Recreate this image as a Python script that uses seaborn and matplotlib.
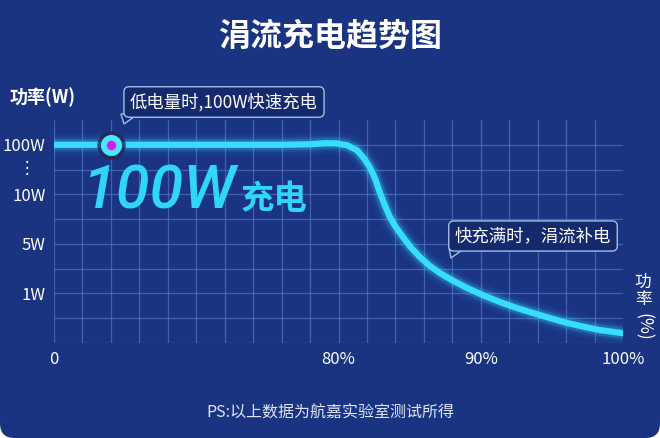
import numpy as np
import pandas as pd
import matplotlib
matplotlib.use('Agg')
import matplotlib.pyplot as plt
import seaborn as sns
from matplotlib.patches import FancyBboxPatch, Polygon

# curve, in grid units (x: 0..20 squares, y: 0..9 squares)
curve_x = [0, 2, 4, 6, 8, 9.0, 9.5, 9.9, 10.3, 10.65, 10.9, 11.1, 11.3, 11.46, 11.65,
           11.81, 12.0, 12.27, 12.55, 12.86, 13.2, 13.57, 14.0, 14.52, 15.1, 15.68,
           16.25, 16.84, 17.45, 18.03, 18.6, 19.19, 19.97]
curve_y = [8.0, 8.0, 8.0, 8.0, 8.0, 8.02, 8.06, 8.06, 7.98, 7.78, 7.45, 7.10, 6.6, 6.05, 5.5,
           5.08, 4.7, 4.27, 3.85, 3.47, 3.12, 2.82, 2.53, 2.22, 1.92, 1.65,
           1.42, 1.21, 1.0, 0.81, 0.66, 0.52, 0.40]
marker_x = [2]
marker_y = [8]

xtick_pos = [0, 10, 15, 20]
xtick_labels = ['0', '80%', '90%', '100%']
ytick_pos = [2, 4, 6, 8]
ytick_labels = ['1W', '5W', '10W', '100W']

df = pd.DataFrame({'pos': curve_x, 'power': curve_y})

bg = '#1a3482'
cyan = '#38dcff'

sns.set_style('white')
plt.rcParams['font.family'] = ['Noto Sans CJK SC', 'DejaVu Sans']

fig = plt.figure(figsize=(6.6, 4.38), dpi=100, facecolor='white')
# navy card with rounded bottom corners
fig.patches.append(FancyBboxPatch((0, 0), 1, 1.1, boxstyle='round,pad=0,rounding_size=0.022',
                                  transform=fig.transFigure, facecolor=bg, edgecolor='none',
                                  mutation_aspect=660 / 438, zorder=-5))

ax = fig.add_axes([54 / 660, 1 - 343 / 438, (623 - 54) / 660, (343 - 120) / 438])
ax.set_zorder(2)
ax.set_facecolor('none')
ax.set_xlim(0, 20)
ax.set_ylim(0, 9)

for gx in range(0, 20):
    ax.axvline(gx, color='#5a80cf', lw=0.9, alpha=0.6, zorder=1)
for gy in range(0, 9):
    ax.axhline(gy, color='#5a80cf', lw=0.9, alpha=0.6, zorder=1)

# glow + line
for lw, a in [(16, 0.05), (11, 0.1), (8, 0.22)]:
    sns.lineplot(data=df, x='pos', y='power', ax=ax, color=cyan, lw=lw, alpha=a,
                 solid_capstyle='round', zorder=3, sort=False)
sns.lineplot(data=df, x='pos', y='power', ax=ax, color=cyan, lw=4.5,
             solid_capstyle='round', zorder=4, sort=False)

ax.scatter(marker_x, marker_y, s=420, color='#1b2b55', alpha=0.8, zorder=5, linewidths=0)
ax.scatter(marker_x, marker_y, s=230, color='#4fe3ff', zorder=6, linewidths=0)
ax.scatter(marker_x, marker_y, s=45, color='#d21ee6', zorder=7, linewidths=0)

ax.set_xticks(xtick_pos)
ax.set_xticklabels(xtick_labels)
ax.set_yticks(ytick_pos)
ax.set_yticklabels(ytick_labels)
ax.tick_params(axis='both', length=0, colors='white', labelsize=12)
ax.tick_params(axis='x', pad=6)
ax.tick_params(axis='y', pad=6)
ax.set_xlabel('')
ax.set_ylabel('')
for s in ax.spines.values():
    s.set_visible(False)

ax.text(-0.95, 7.05, '⋮', color='white', fontsize=12, ha='center', va='center',
        family=['DejaVu Sans'])

# big label
ax.text(1.0, 6.1, '100W', color='#2fd6f7', fontsize=44, style='italic', weight='medium',
        family=['Roboto', 'DejaVu Sans'], va='center', ha='left', zorder=4)
ax.text(6.55, 5.8, '充电', color='#2fd6f7', fontsize=24, weight='bold', va='center', ha='left', zorder=4)


def fx(x):
    return x / 660


def fy(y):
    return 1 - y / 438


fig.text(fx(330), fy(37), '涓流充电趋势图', color='white', fontsize=23, weight='bold',
         ha='center', va='center')
fig.text(fx(10), fy(97), '功率(W)', color='white', fontsize=13, weight='bold', ha='left', va='center')
fig.text(fx(643), fy(291), '功\n率', color='white', fontsize=12, ha='center', va='center',
         linespacing=1.0)
fig.text(fx(643), fy(327), '(%)', color='white', fontsize=12.5, ha='center', va='center',
         rotation=270)
fig.text(fx(330), fy(413), 'PS:以上数据为航嘉实验室测试所得', color='#dfe6f5', fontsize=11.5,
         ha='center', va='center')

box = dict(boxstyle='round,pad=0.35,rounding_size=0.3', facecolor='#142a6c',
           edgecolor='#9fbfe8', linewidth=1)
fig.text(fx(224), fy(102), '低电量时,100W快速充电', color='white', fontsize=12.5,
         ha='center', va='center', bbox=box, zorder=8)
fig.patches.append(Polygon([(fx(121), fy(114)), (fx(138), fy(114)), (fx(124), fy(124))],
                           closed=True, transform=fig.transFigure, facecolor='#142a6c',
                           edgecolor='#9fbfe8', linewidth=1, zorder=7))
fig.text(fx(533), fy(236), '快充满时，涓流补电', color='white', fontsize=12.5,
         ha='center', va='center', bbox=box, zorder=8)
fig.patches.append(Polygon([(fx(449), fy(248)), (fx(465), fy(248)), (fx(451), fy(258))],
                           closed=True, transform=fig.transFigure, facecolor='#142a6c',
                           edgecolor='#9fbfe8', linewidth=1, zorder=7))

fig.savefig('out.png', dpi=100, facecolor=fig.get_facecolor())
